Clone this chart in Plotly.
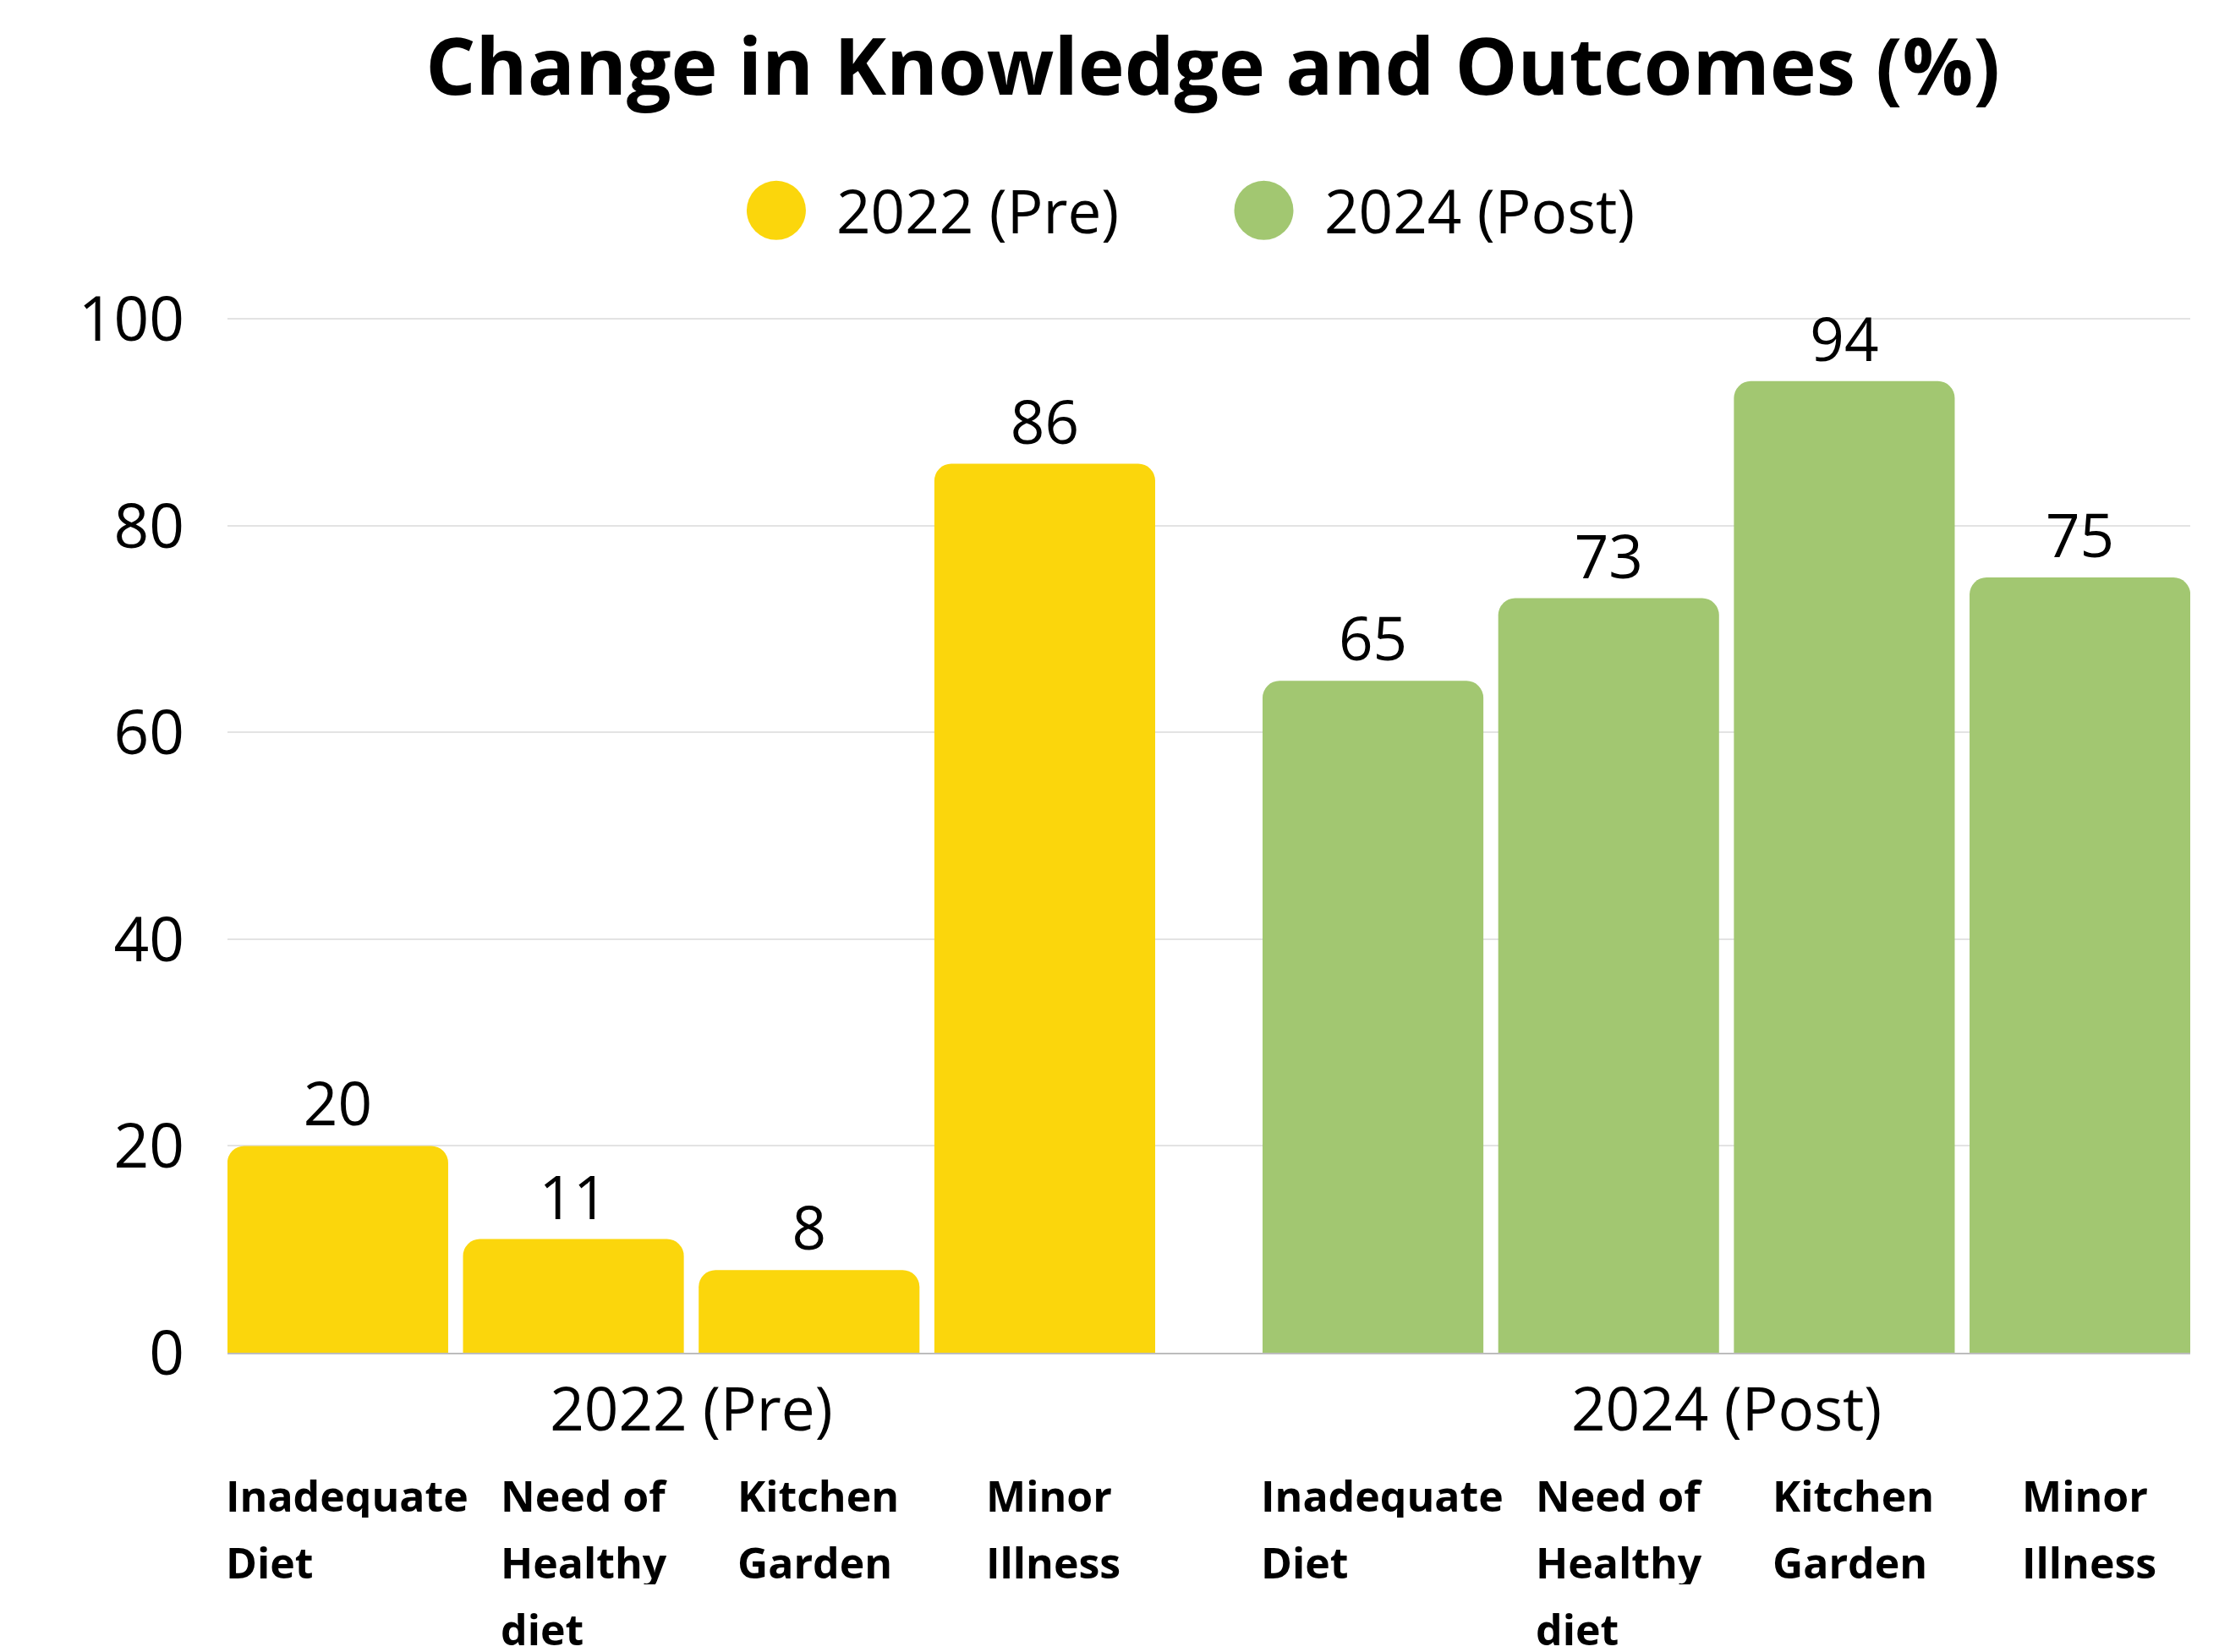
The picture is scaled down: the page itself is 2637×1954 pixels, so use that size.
import plotly.graph_objects as go

# ---- data ----
groups = ["2022 (Pre)", "2024 (Post)"]
categories = ["Inadequate Diet", "Need of Healthy diet", "Kitchen Garden", "Minor Illness"]
category_lines = [["Inadequate", "Diet"], ["Need of", "Healthy", "diet"], ["Kitchen", "Garden"], ["Minor", "Illness"]]
values_2022 = [20, 11, 8, 86]
values_2024 = [65, 73, 94, 75]
group_colors = ["#FBD60C", "#A2C771"]
y_ticks = [0, 20, 40, 60, 80, 100]

FONT = "Open Sans"
BAR_GAP = 0.0894
BAR_GROUP_GAP = 0.063

fig = go.Figure()
for k, cat in enumerate(categories):
    fig.add_trace(go.Bar(
        name=cat,
        x=groups,
        y=[values_2022[k], values_2024[k]],
        marker=dict(color=group_colors, cornerradius=20, line=dict(width=0)),
        text=[values_2022[k], values_2024[k]],
        textposition="outside",
        textfont=dict(family=FONT, size=71, color="#000000"),
        cliponaxis=False,
        showlegend=False,
        hoverinfo="skip",
    ))

# approximate advance widths (em) for Open Sans Bold to centre left-aligned label blocks
W = {'a': .60, 'b': .65, 'c': .52, 'd': .65, 'e': .60, 'f': .39, 'g': .58, 'h': .67, 'i': .31,
     'l': .31, 'n': .67, 'o': .63, 'q': .65, 'r': .46, 's': .51, 't': .42, 'u': .67, 'y': .57,
     'D': .71, 'G': .72, 'H': .75, 'I': .33, 'K': .67, 'M': .92, 'N': .79, ' ': .26}
SUB_SIZE = 50
def text_w(s):
    return sum(W.get(ch, .6) for ch in s) * SUB_SIZE

slot = (1 - BAR_GAP) / len(categories)
annotations = []
for g in range(len(groups)):
    for k, lines in enumerate(category_lines):
        xc = g + (k - (len(categories) - 1) / 2) * slot
        block = max(text_w(s) for s in lines)
        for i, line in enumerate(lines):
            annotations.append(dict(
                x=xc, xref="x", y=0, yref="paper",
                xanchor="left", yanchor="middle", height=52,
                xshift=-block / 2 + 10, yshift=-169 - 79 * i,
                text=f"<b>{line}</b>", showarrow=False,
                font=dict(family=FONT, size=SUB_SIZE, color="#000000"),
            ))

# custom legend
legend_x_circle = [0.2796, 0.528]
legend_x_text = [0.3094, 0.558]
shapes = []
for g, name in enumerate(groups):
    shapes.append(dict(type="circle", xref="paper", yref="paper",
                       xsizemode="pixel", ysizemode="pixel",
                       xanchor=legend_x_circle[g], yanchor=1.103,
                       x0=-35, x1=35, y0=-35, y1=35,
                       fillcolor=group_colors[g], line=dict(width=0)))
    annotations.append(dict(x=legend_x_text[g], y=1.103, xref="paper", yref="paper",
                            xanchor="left", yanchor="middle", showarrow=False,
                            text=name, font=dict(family=FONT, size=71, color="#000000")))

H = 1946
fig.update_layout(
    width=2629, height=H,
    margin=dict(l=261, r=47, t=367, b=354),
    paper_bgcolor="white", plot_bgcolor="white",
    barmode="group", bargap=BAR_GAP, bargroupgap=BAR_GROUP_GAP,
    title=dict(text="<b>Change in Knowledge and Outcomes (%)</b>",
               x=0.502, xref="paper", xanchor="center",
               y=1 - 71 / H, yref="container", yanchor="middle",
               font=dict(family=FONT, size=93, color="#000000")),
    xaxis=dict(type="category", range=[-0.448, 1.448],
               showline=True, linecolor="#BDBDBD", linewidth=2,
               showgrid=False, ticks="", ticklabelstandoff=5,
               tickfont=dict(family=FONT, size=71, color="#000000")),
    yaxis=dict(range=[0, 100.2], tickvals=y_ticks, showgrid=True, gridcolor="#E3E3E3",
               gridwidth=2, zeroline=False, showline=False, ticks="",
               ticklabelstandoff=50,
               tickfont=dict(family=FONT, size=73, color="#000000")),
    annotations=annotations,
    shapes=shapes,
    showlegend=False,
)

fig.write_html("out.html")
